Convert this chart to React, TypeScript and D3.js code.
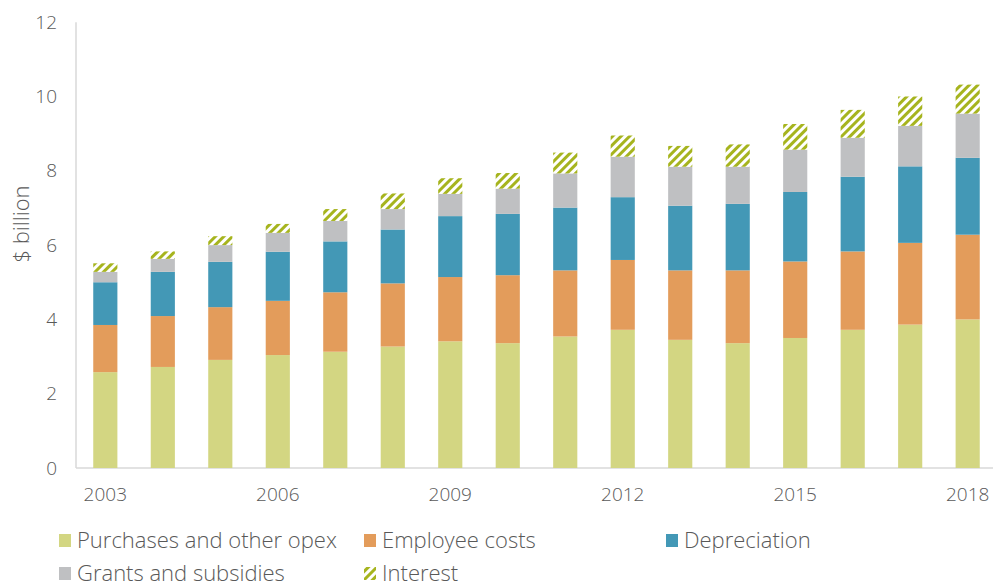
import React from "react";
import { scaleBand, scaleLinear, stack } from "d3";

// values in $ billion
const years = [
    "2003", "2004", "2005", "2006", "2007", "2008", "2009", "2010",
    "2011", "2012", "2013", "2014", "2015", "2016", "2017", "2018",
];
const purchases = [2.58, 2.72, 2.91, 3.04, 3.13, 3.27, 3.41, 3.36, 3.54, 3.72, 3.45, 3.36, 3.5, 3.72, 3.86, 4.0];
const employee = [1.27, 1.37, 1.42, 1.46, 1.6, 1.7, 1.73, 1.83, 1.78, 1.88, 1.87, 1.96, 2.06, 2.11, 2.2, 2.28];
const depreciation = [1.15, 1.19, 1.22, 1.32, 1.37, 1.45, 1.64, 1.65, 1.69, 1.69, 1.74, 1.79, 1.87, 2.01, 2.06, 2.07];
const grants = [0.28, 0.35, 0.45, 0.51, 0.55, 0.55, 0.6, 0.68, 0.92, 1.09, 1.05, 1.0, 1.14, 1.05, 1.09, 1.19];
const interest = [0.23, 0.2, 0.24, 0.24, 0.32, 0.42, 0.42, 0.42, 0.56, 0.57, 0.56, 0.6, 0.69, 0.75, 0.79, 0.78];
const yTicks = [0, 2, 4, 6, 8, 10, 12];
const xLabels = ["2003", "2006", "2009", "2012", "2015", "2018"];

const series = [
    { key: "purchases", name: "Purchases and other opex", values: purchases, fill: "#D3D682" },
    { key: "employee", name: "Employee costs", values: employee, fill: "#E39C5B" },
    { key: "depreciation", name: "Depreciation", values: depreciation, fill: "#4398B6" },
    { key: "grants", name: "Grants and subsidies", values: grants, fill: "#BFC0C2" },
    { key: "interest", name: "Interest", values: interest, fill: "url(#hatch)" },
];

const W = 993;
const H = 588;
const FONT = "'Open Sans', Lato, sans-serif";
const TEXT = "#595959";

const App = () => {
    const x = scaleBand<string>().domain(years).range([76, 997]).paddingInner(0.58).paddingOuter(0.3);
    const y = scaleLinear().domain([0, 12]).range([468, 22.2]);

    // one row per year, then stacked
    const rows = years.map((yr, i) => {
        const r: Record<string, any> = { year: yr };
        series.forEach((s) => (r[s.key] = s.values[i]));
        return r;
    });
    const layers = stack<any>().keys(series.map((s) => s.key))(rows);

    const legend = [
        { s: series[0], x: 59, y: 540 },
        { s: series[1], x: 364, y: 540 },
        { s: series[2], x: 666, y: 540 },
        { s: series[3], x: 59, y: 573 },
        { s: series[4], x: 364, y: 573 },
    ];

    return (
        <div style={{ position: "absolute", left: 0, top: 0 }}>
            <svg width={W} height={H} style={{ display: "block", background: "#fff" }}>
                <defs>
                    <pattern id="hatch" patternUnits="userSpaceOnUse" width="6" height="6" patternTransform="rotate(45)">
                        <rect width="6" height="6" fill="#fff" />
                        <rect width="3" height="6" fill="#A6B41E" />
                    </pattern>
                </defs>

                {/* axes lines */}
                <line x1={76} x2={76} y1={y(12)} y2={y(0)} stroke="#D9D9D9" strokeWidth={1.5} />
                <line x1={76} x2={993} y1={y(0)} y2={y(0)} stroke="#D9D9D9" strokeWidth={1.5} />

                {/* bars */}
                {layers.map((layer, li) => (
                    <g key={layer.key} fill={series[li].fill}>
                        {layer.map((d, i) => (
                            <rect
                                key={years[i]}
                                x={x(years[i])}
                                width={x.bandwidth()}
                                y={y(d[1])}
                                height={y(d[0]) - y(d[1])}
                            />
                        ))}
                    </g>
                ))}

                {/* y ticks */}
                {yTicks.map((t) => (
                    <text key={t} x={57} y={y(t)} dy="0.35em" textAnchor="end" fontFamily={FONT} fontSize={19} fill={TEXT} fontWeight={300}>
                        {t}
                    </text>
                ))}
                <text
                    transform={`translate(29,224) rotate(-90)`}
                    textAnchor="middle"
                    fontFamily={FONT}
                    fontSize={22}
                    fontWeight={300}
                    fill={TEXT}
                >
                    $ billion
                </text>

                {/* x labels */}
                {xLabels.map((l) => (
                    <text key={l} x={(x(l) ?? 0) + x.bandwidth() / 2} y={494} dy="0.35em" textAnchor="middle" fontFamily={FONT} fontSize={19} fontWeight={300} fill={TEXT}>
                        {l}
                    </text>
                ))}

                {/* legend */}
                {legend.map(({ s, x: lx, y: ly }) => (
                    <g key={s.key}>
                        <rect x={lx} y={ly - 6} width={12} height={13} fill={s.fill} />
                        <text x={lx + 18} y={ly} dy="0.35em" fontFamily={FONT} fontSize={22} fontWeight={300} fill={TEXT}>
                            {s.name}
                        </text>
                    </g>
                ))}
            </svg>
        </div>
    );
};

export default App;
